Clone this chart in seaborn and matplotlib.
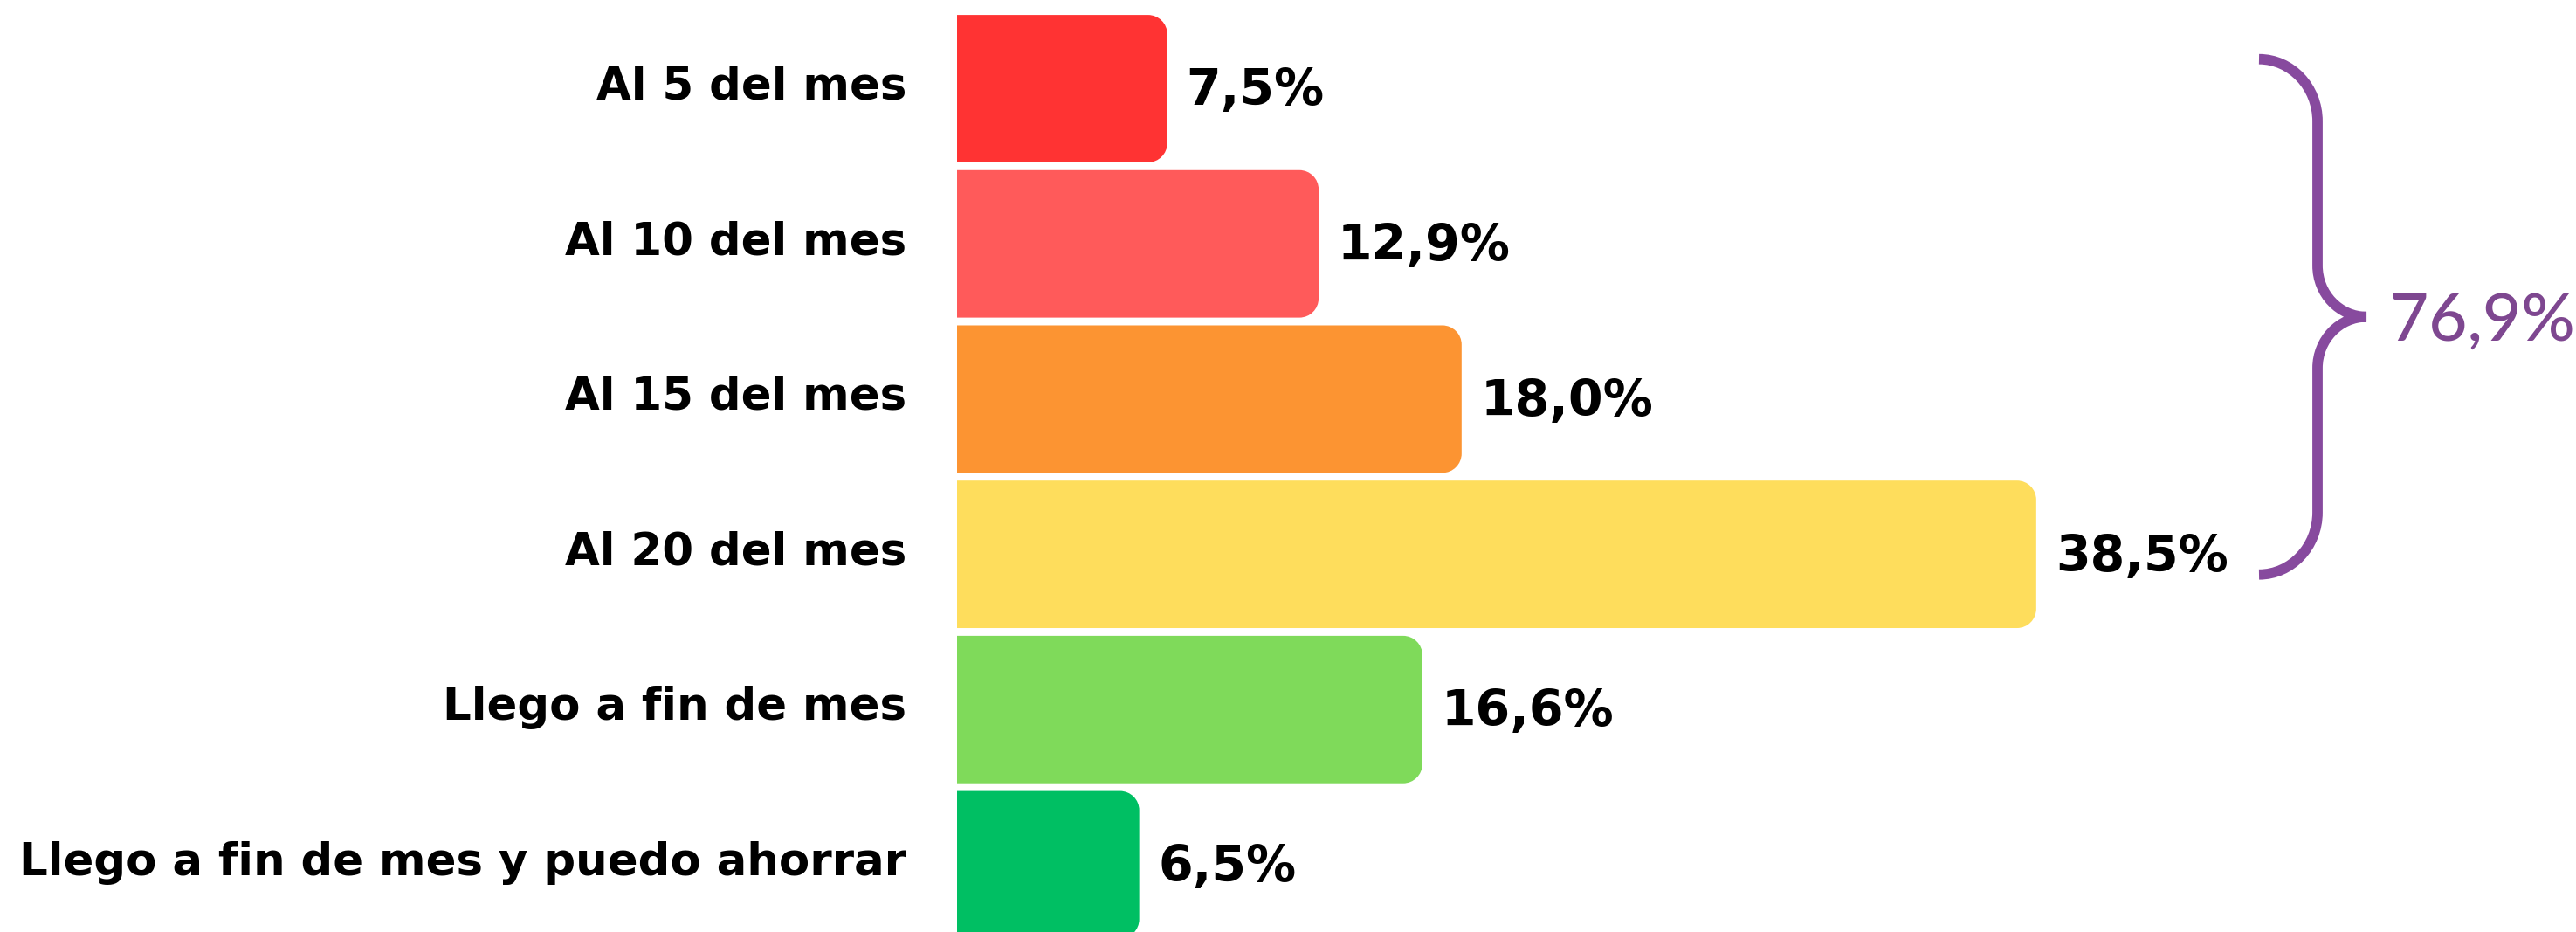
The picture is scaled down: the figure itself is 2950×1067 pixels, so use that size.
import numpy as np
import matplotlib
import matplotlib.pyplot as plt
from matplotlib.path import Path
from matplotlib.patches import PathPatch
import seaborn as sns

# ==================== 数据 ====================
categorias = ['Al 5 del mes', 'Al 10 del mes', 'Al 15 del mes', 'Al 20 del mes',
              'Llego a fin de mes', 'Llego a fin de mes y puedo ahorrar']
valores = [7.5, 12.9, 18.0, 38.5, 16.6, 6.5]
colores = ['#FF3333', '#FF5A5A', '#FC9432', '#FEDD5C', '#7FDA5A', '#00BF63']
grupo_llave = [0, 1, 2, 3]   # barras agrupadas por la llave
color_llave = '#874A9E'

sns.set_theme(style='white')
plt.rcParams['font.family'] = ['DejaVu Sans']

K = 0.552


def barra_redondeada(x, y, w, h, rx, ry):
    """rectángulo con las esquinas derechas redondeadas"""
    verts = [
        (x, y), (x + w - rx, y),
        (x + w - rx + K * rx, y), (x + w, y + ry - K * ry), (x + w, y + ry),
        (x + w, y + h - ry),
        (x + w, y + h - ry + K * ry), (x + w - rx + K * rx, y + h), (x + w - rx, y + h),
        (x, y + h), (x, y),
    ]
    codes = ([Path.MOVETO, Path.LINETO] + [Path.CURVE4] * 3 + [Path.LINETO]
             + [Path.CURVE4] * 3 + [Path.LINETO, Path.CLOSEPOLY])
    return Path(verts, codes)


W, H = 2950, 1067
fig = plt.figure(figsize=(W / 100, H / 100), dpi=100)
x0_px = 1096
px_per_unit = 32.1
pitch = 177.7
ax = fig.add_axes([x0_px / W, 0, 1 - x0_px / W, 1])

sns.barplot(x=valores, y=categorias, hue=categorias, palette=colores,
            legend=False, width=0.95, orient='h', ax=ax, saturation=1)

ax.set_xlim(0, (W - x0_px) / px_per_unit)
ax.set_ylim((H - 101.5) / pitch, -101.5 / pitch)

# esquinas redondeadas a la derecha
r_px = 22
rx = r_px / px_per_unit
ry = r_px / pitch
for p, c in zip(list(ax.patches[:len(valores)]), colores):
    x, y, w, h = p.get_x(), p.get_y(), p.get_width(), p.get_height()
    p.set_visible(False)
    ax.add_patch(PathPatch(barra_redondeada(x, y, w, h, rx, ry),
                           facecolor=c, edgecolor='none', zorder=p.get_zorder()))

# etiquetas de valor y de categoría (alineadas por la línea base)
for i, (cat, v) in enumerate(zip(categorias, valores)):
    ax.text(v + 22 / px_per_unit, i + 19 / pitch, f'{v:.1f}%'.replace('.', ','),
            va='baseline', ha='left', fontsize=41, fontweight='bold',
            color='black')
    ax.text(-58 / px_per_unit, i + 12 / pitch, cat, va='baseline', ha='right',
            fontsize=37, fontweight='bold', color='black', clip_on=False)

ax.set_xticks([])
ax.set_yticks([])
ax.set_ylabel('')
ax.set_xlabel('')
sns.despine(ax=ax, left=True, bottom=True)

# llave
xa = (2587 - x0_px) / px_per_unit
xs = (2654 - x0_px) / px_per_unit
xt = (2710 - x0_px) / px_per_unit
ya = grupo_llave[0] - 0.19
yb = grupo_llave[-1] + 0.13
ym = (ya + yb) / 2
r1 = 0.40
r2 = 0.33
verts = [
    (xa, ya),
    (xa + K * (xs - xa), ya), (xs, ya + r1 * (1 - K)), (xs, ya + r1),
    (xs, ym - r2),
    (xs, ym - r2 + K * r2), (xt - K * (xt - xs), ym), (xt, ym),
    (xt - K * (xt - xs), ym), (xs, ym + r2 * (1 - K)), (xs, ym + r2),
    (xs, yb - r1),
    (xs, yb - r1 + K * r1), (xa + K * (xs - xa), yb), (xa, yb),
]
codes = ([Path.MOVETO] + [Path.CURVE4] * 3 + [Path.LINETO] + [Path.CURVE4] * 6
         + [Path.LINETO] + [Path.CURVE4] * 3)
ax.add_patch(PathPatch(Path(verts, codes), facecolor='none',
                       edgecolor=color_llave, lw=8.5, capstyle='butt',
                       clip_on=False))
total = sum(valores[i] for i in grupo_llave)
ax.text((2737 - x0_px) / px_per_unit, ym + 27 / pitch,
        f'{total:.1f}%'.replace('.', ','),
        va='baseline', ha='left', fontsize=55, fontweight='medium',
        color='#7E4790', family=['Lato', 'DejaVu Sans'])

fig.savefig('out.png', dpi=100, facecolor='white')
